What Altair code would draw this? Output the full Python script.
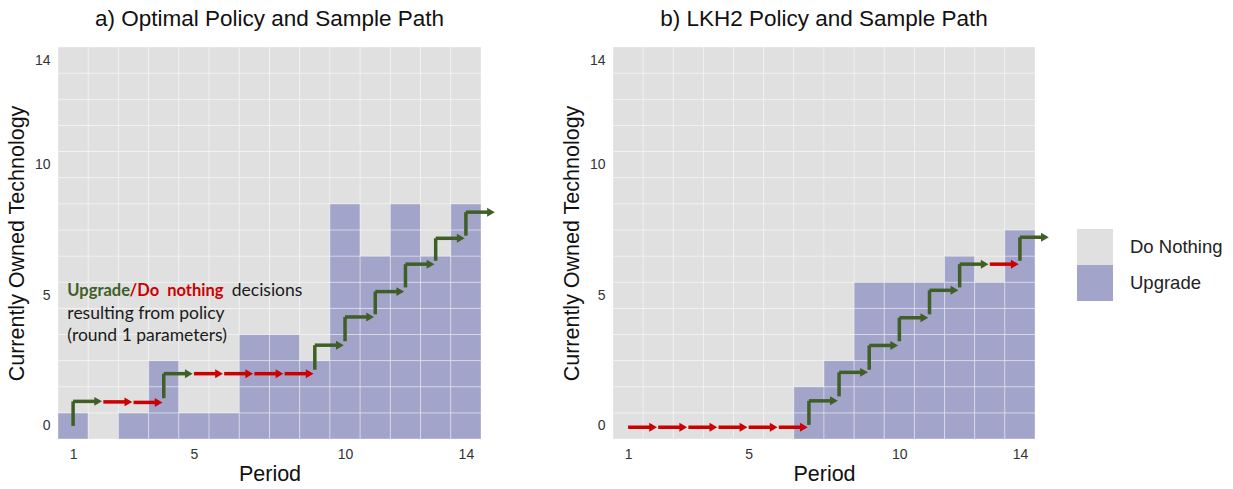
import altair as alt
import pandas as pd

# ---------------- data ----------------
periods = list(range(1, 15))
tech_levels = list(range(0, 15))

# highest currently-owned technology level at which the policy says "Upgrade" (-1 = never)
optimal_upgrade_max = [0, -1, 0, 2, 0, 0, 3, 3, 2, 8, 6, 8, 6, 8]
lkh2_upgrade_max = [-1, -1, -1, -1, -1, -1, 1, 2, 5, 5, 5, 6, 5, 7]

# sample paths: decision taken in each period, level where the arrow starts, level of the horizontal arrow
optimal_decisions = ["Upgrade", "Do Nothing", "Do Nothing", "Upgrade", "Do Nothing", "Do Nothing",
                     "Do Nothing", "Do Nothing", "Upgrade", "Upgrade", "Upgrade", "Upgrade",
                     "Upgrade", "Upgrade"]
optimal_from = [0.0, 0.92, 0.9, 1.06, 2.0, 2.0, 2.0, 2.0, 2.15, 3.24, 4.27, 5.3, 6.32, 7.28]
optimal_to = [0.94, 0.92, 0.9, 2.0, 2.0, 2.0, 2.0, 2.0, 3.09, 4.17, 5.14, 6.19, 7.18, 8.18]

lkh2_decisions = ["Do Nothing"] * 6 + ["Upgrade"] * 6 + ["Do Nothing", "Upgrade"]
lkh2_from = [-0.05] * 6 + [0.04, 1.13, 2.15, 3.24, 4.27, 5.3, 6.19, 6.32]
lkh2_to = [-0.05] * 6 + [0.96, 2.05, 3.08, 4.14, 5.19, 6.19, 6.19, 7.22]

decision_order = ["Do Nothing", "Upgrade"]
tile_colors = ["#E0E0E0", "#A2A5C9"]
green = "#3F5F26"
red = "#CC0000"

FONT = "Liberation Sans"
NOTE_FONT = "Lato"


def tiles_frame(upgrade_max):
    rows = []
    for p, m in zip(periods, upgrade_max):
        for t in tech_levels:
            rows.append({"period": p, "tech": t,
                         "policy": "Upgrade" if t <= m else "Do Nothing"})
    return pd.DataFrame(rows)


def arrows_frame(decisions, y_from, y_to):
    return pd.DataFrame({"period": periods, "decision": decisions,
                         "y_from": y_from, "y_to": y_to})


x_scale = alt.Scale(domain=[0.5, 14.5], nice=False, zero=False)
y_scale = alt.Scale(domain=[-0.5, 14.5], nice=False, zero=False)
x_axis = alt.Axis(values=[1, 5, 10, 14], title="Period", labelPadding=8, titlePadding=2)
y_axis = alt.Axis(values=[0, 5, 10, 14], title="Currently Owned Technology",
                  labelPadding=8, titlePadding=6)


def panel(upgrade_max, decisions, y_from, y_to, title, width, show_legend, note):
    tiles = alt.Chart(tiles_frame(upgrade_max)).mark_rect(
        stroke="white", strokeWidth=1, strokeOpacity=0.35
    ).transform_calculate(
        x0="datum.period - 0.5", x1="datum.period + 0.5",
        y0="datum.tech - 0.5", y1="datum.tech + 0.5"
    ).encode(
        x=alt.X("x0:Q", scale=x_scale, axis=x_axis),
        x2="x1:Q",
        y=alt.Y("y0:Q", scale=y_scale, axis=y_axis),
        y2="y1:Q",
        fill=alt.Fill("policy:N", scale=alt.Scale(domain=decision_order, range=tile_colors),
                      legend=(alt.Legend(orient="none", legendX=464, legendY=182, title=None,
                                         symbolType="square", symbolSize=1296,
                                         symbolStrokeWidth=0, rowPadding=0, padding=0,
                                         labelFontSize=18.5, labelFont=FONT, labelColor="#222222",
                                         labelOffset=17)
                              if show_legend else None)),
    )

    arrows = alt.Chart(arrows_frame(decisions, y_from, y_to)).transform_calculate(
        x_start="datum.period",
        x_head="datum.period + 0.83",
    )
    layers = [tiles]
    for dec, col in [("Do Nothing", red), ("Upgrade", green)]:
        a = arrows.transform_filter(alt.datum.decision == dec)
        if dec == "Upgrade":
            layers.append(a.mark_rule(color=col, strokeWidth=3.5, clip=False).encode(
                x="x_start:Q", y="y_from:Q", y2="y_to:Q"))
        layers.append(a.mark_rule(color=col, strokeWidth=3.5, clip=False).encode(
            x="x_start:Q", x2="x_head:Q", y="y_to:Q"))
        layers.append(a.mark_point(shape="triangle-right", filled=True, color=col, opacity=1,
                                   size=80, clip=False).encode(
            x="x_head:Q", y="y_to:Q"))

    if note:
        note_df = pd.DataFrame({
            "x": [0.81, 2.87, 6.25, 0.81, 0.81],
            "y": [5.15, 5.15, 5.15, 4.30, 3.46],
            "text": ["Upgrade", "/Do\u00a0 nothing", "decisions",
                     "resulting from policy", "(round 1 parameters)"],
            "style": ["g", "r", "k", "k", "k"],
        })
        for s, col, w, fs in [("g", green, "bold", 16.5), ("r", red, "bold", 16.5),
                              ("k", "#1a1a1a", "normal", 17.5)]:
            layers.append(alt.Chart(note_df).transform_filter(alt.datum.style == s).mark_text(
                align="left", baseline="middle", font=NOTE_FONT, fontSize=fs,
                fontWeight=w, color=col).encode(x="x:Q", y="y:Q", text="text:N"))

    return alt.layer(*layers).properties(
        width=width, height=392,
        title=alt.TitleParams(title, fontSize=22.5, font=FONT, fontWeight="normal",
                              anchor="middle", color="#111111", offset=16)
    )


panel_a = panel(optimal_upgrade_max, optimal_decisions, optimal_from, optimal_to,
                "a) Optimal Policy and Sample Path", 423, False, True)
panel_b = panel(lkh2_upgrade_max, lkh2_decisions, lkh2_from, lkh2_to,
                "b) LKH2 Policy and Sample Path", 422, True, False)

chart = alt.hconcat(panel_a, panel_b, spacing=66).resolve_scale(
    fill="independent"
).properties(
    padding={"left": 6, "top": 8, "right": 0, "bottom": 0},
    background="white"
).configure_view(
    stroke=None
).configure_axis(
    grid=False, ticks=False, domain=False,
    labelFont=FONT, labelFontSize=14, labelColor="#333333",
    titleFont=FONT, titleFontSize=21.5, titleFontWeight="normal", titleColor="#111111"
)

chart.save("out.html", embed_options={"renderer": "svg", "actions": False})
